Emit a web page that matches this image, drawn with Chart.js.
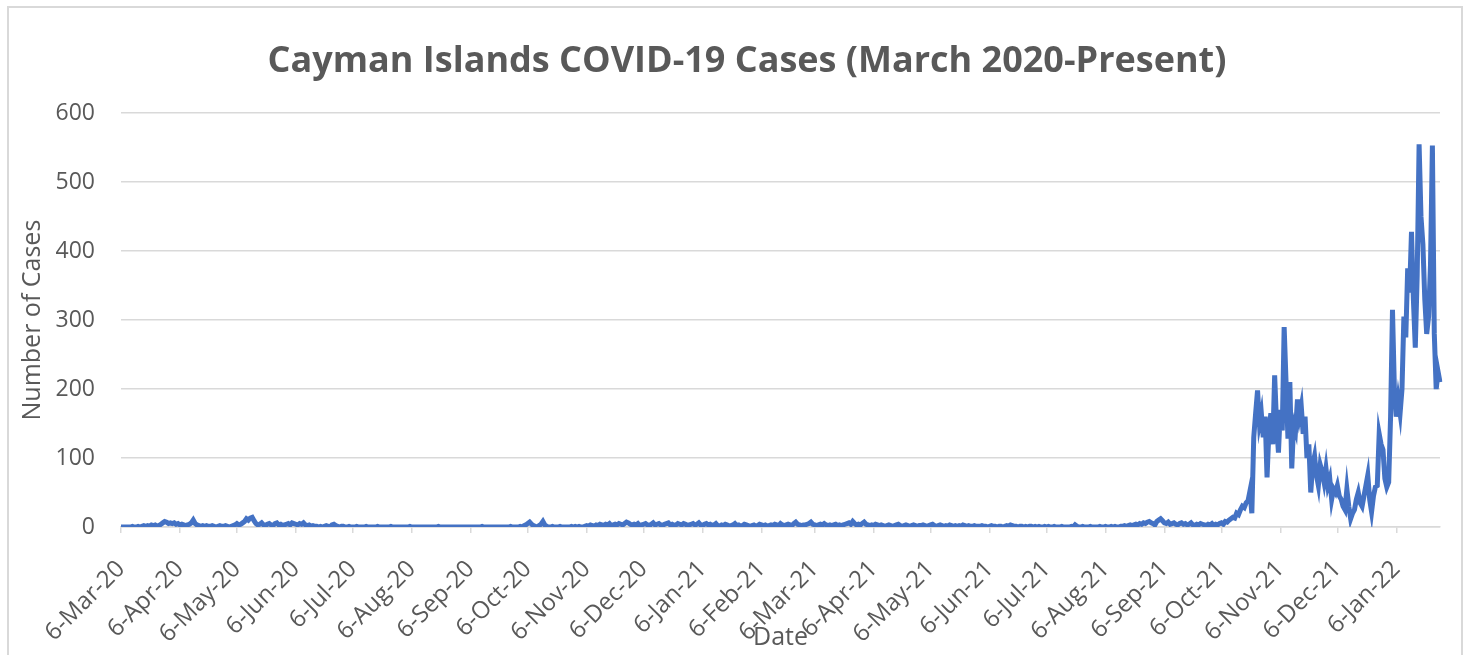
<!DOCTYPE html>
<html>
<head>
<meta charset="utf-8">
<title>Cayman Islands COVID-19 Cases</title>
<script src="https://cdn.jsdelivr.net/npm/chart.js@4.4.1/dist/chart.umd.min.js"></script>
<style>
  html, body { margin: 0; padding: 0; background: #fff; }
  #wrap { position: relative; width: 1472px; height: 655px; overflow: hidden; }
  #frame { position: absolute; left: 7px; top: 6px; width: 1456px; height: 700px; border: 2px solid #d9d9d9; box-sizing: border-box; }
  canvas { position: absolute; left: 0; top: 0; }
</style>
</head>
<body>
<div id="wrap">
  <div id="frame"></div>
  <canvas id="chart" width="1472" height="655"></canvas>
</div>
<script>
// daily new cases (first day = 6 Mar 2020)
const mar20 = [0,0,0,0,0,0,1,0,0,1,0,1,2,1,2,1,3,2,3,1,2,4,6,8,7,5];
const apr20 = [6,5,6,4,5,3,4,3,2,3,4,6,10,5,3,2,1,2,1,2,1,1,2,1,0,1,2,1,1,2];
const may20 = [1,0,1,2,3,5,3,4,6,8,12,10,13,14,9,5,3,4,6,3,2,4,5,3,2,5,6,3,4,2,3];
const jun20 = [4,5,3,6,5,4,3,5,4,6,3,2,3,1,2,1,1,0,1,0,1,2,1,0,3,4,2,1,0,1];
const jul20 = [1,0,0,1,0,0,0,1,0,0,0,0,1,0,0,0,0,0,1,0,0,0,0,0,0,1,0,0,0,0,0];
const aug20 = [0,0,0,0,1,0,0,0,0,0,0,0,0,0,0,0,0,0,0,1,0,0,0,0,0,0,0,0,0,0,0];
const sep20 = [0,0,0,0,0,0,0,0,0,0,0,1,0,0,0,0,0,0,0,0,0,0,0,0,0,0,1,0,0,0];
const oct20 = [0,1,0,2,3,5,7,4,2,1,0,2,4,8,3,1,0,0,1,0,0,0,1,0,0,0,0,0,1,0,1];
const nov20 = [0,1,0,0,1,2,1,3,2,1,3,2,4,3,2,4,3,5,2,3,4,3,5,4,3,5,7,6,4,3];
const dec20 = [4,3,5,2,3,4,5,3,2,4,6,3,4,5,3,2,4,5,6,3,4,2,3,5,4,3,5,4,2,3,4];
const jan21 = [5,3,4,6,3,2,4,5,3,4,2,3,5,2,1,3,2,4,3,1,2,3,5,2,3,1,2,4,3,2,1];
const feb21 = [2,3,1,2,4,3,2,3,1,2,3,2,4,3,2,5,3,2,3,4,3,2,5,7,4,3,2,3];
const mar21 = [3,4,5,7,4,3,2,3,4,3,5,3,2,3,2,3,4,2,3,2,3,4,5,6,4,8,5,3,4,3,5];
const apr21 = [7,4,3,2,3,2,4,3,2,3,2,1,2,3,2,1,2,3,4,2,1,2,3,2,1,2,3,2,1,2];
const may21 = [2,3,2,1,2,3,4,2,1,2,3,2,1,2,1,3,2,1,2,1,2,1,3,2,1,2,1,1,2,1,1];
const jun21 = [1,2,1,1,0,1,2,1,1,0,1,1,0,1,2,1,3,2,1,1,0,1,1,0,1,0,1,1,0,1];
const jul21 = [0,1,0,0,1,0,1,0,0,1,0,0,0,1,0,0,0,0,1,0,3,1,0,0,1,0,0,0,1,0,0];
const aug21 = [0,0,1,0,0,1,0,0,1,0,1,0,0,1,1,2,1,2,3,2,3,4,3,5,4,6,5,7,8,6,5];
const sep21 = [3,8,10,12,9,6,5,7,4,5,6,4,3,5,6,4,5,3,4,6,3,2,4,3,5,4,3,2,4,3];
const oct21 = [5,2,4,3,5,6,4,8,7,10,12,14,13,20,18,25,30,28,35,38,52,20,130,165,198,150,165,130,160,72,140];
const nov21 = [165,120,220,150,108,170,140,290,210,128,210,85,150,140,185,160,175,135,160,100,120,50,90,103,75,60,90,80,65,85];
const dec21 = [60,70,40,55,50,60,45,40,30,25,55,30,12,20,25,40,50,35,30,45,60,75,40,22,45,58,60,135,120,112,70];
const jan22 = [58,65,160,315,200,160,185,165,200,305,275,375,340,428,330,260,365,555,450,410,330,280,305,380,553,280,200,225,210];

const tickLabels = [
  "6-Mar-20", "6-Apr-20", "6-May-20", "6-Jun-20", "6-Jul-20", "6-Aug-20",
  "6-Sep-20", "6-Oct-20", "6-Nov-20", "6-Dec-20", "6-Jan-21", "6-Feb-21",
  "6-Mar-21", "6-Apr-21", "6-May-21", "6-Jun-21", "6-Jul-21", "6-Aug-21",
  "6-Sep-21", "6-Oct-21", "6-Nov-21", "6-Dec-21", "6-Jan-22",
];
const monthNames = ["Jan", "Feb", "Mar", "Apr", "May", "Jun", "Jul", "Aug", "Sep", "Oct", "Nov", "Dec"];

const cases = [].concat(
  mar20, apr20, may20, jun20, jul20, aug20, sep20, oct20, nov20, dec20,
  jan21, feb21, mar21, apr21, may21, jun21, jul21, aug21, sep21, oct21, nov21, dec21,
  jan22,
);

// one category per day, same format as the Excel axis ("6-Mar-20")
const labels = cases.map((_, i) => {
  const d = new Date(2020, 2, 6 + i);
  return d.getDate() + "-" + monthNames[d.getMonth()] + "-" + String(d.getFullYear()).slice(2);
});

Chart.defaults.font.family = "'Open Sans', sans-serif";
Chart.defaults.color = "#595959";

const chartContext = document.getElementById("chart").getContext("2d");

new Chart(chartContext, {
  type: "line",
  data: {
    labels,
    datasets: [
      {
        data: cases,
        borderColor: "#4472c4",
        borderWidth: 5,
        pointRadius: 0,
        tension: 0,
        fill: false,
      },
    ],
  },
  options: {
    responsive: false,
    animation: false,
    // left padding is wide so the title centres where Excel put it
    layout: { padding: { left: 54, right: 32, top: 0, bottom: 0 } },
    plugins: {
      legend: { display: false },
      tooltip: { enabled: false },
      title: {
        display: true,
        text: "Cayman Islands COVID-19 Cases (March 2020-Present)",
        color: "#595959",
        font: { size: 36, weight: "bold" },
        padding: { top: 40, bottom: 30 },
      },
    },
    scales: {
      x: {
        grid: {
          drawOnChartArea: false,
          drawTicks: true,
          tickLength: 6,
          lineWidth: 1.5,
          color: (c) => (tickLabels.includes(labels[c.index]) ? "#d9d9d9" : "transparent"),
        },
        border: { color: "#d9d9d9", width: 1.5 },
        ticks: {
          autoSkip: false,
          minRotation: 45,
          maxRotation: 45,
          padding: 22,
          font: { size: 24 },
          callback: function (value) {
            const label = this.getLabelForValue(value);
            return tickLabels.includes(label) ? label : "";
          },
        },
        title: {
          display: true,
          text: "Date",
          font: { size: 25 },
          padding: { top: 0, bottom: 2 },
        },
        afterFit: (scale) => {
          scale.height = 128;
          scale.paddingLeft = 0;
          scale.paddingRight = 0;
        },
      },
      y: {
        min: 0,
        max: 600,
        ticks: { stepSize: 100, padding: 26, font: { size: 23 } },
        grid: { color: "#d9d9d9", lineWidth: 1.5, drawTicks: false },
        border: { display: false },
        title: {
          display: true,
          text: "Number of Cases",
          font: { size: 25 },
          padding: { top: -36, bottom: 0 },
        },
        afterFit: (scale) => {
          scale.width = 67;
        },
      },
    },
  },
});
</script>
</body>
</html>
